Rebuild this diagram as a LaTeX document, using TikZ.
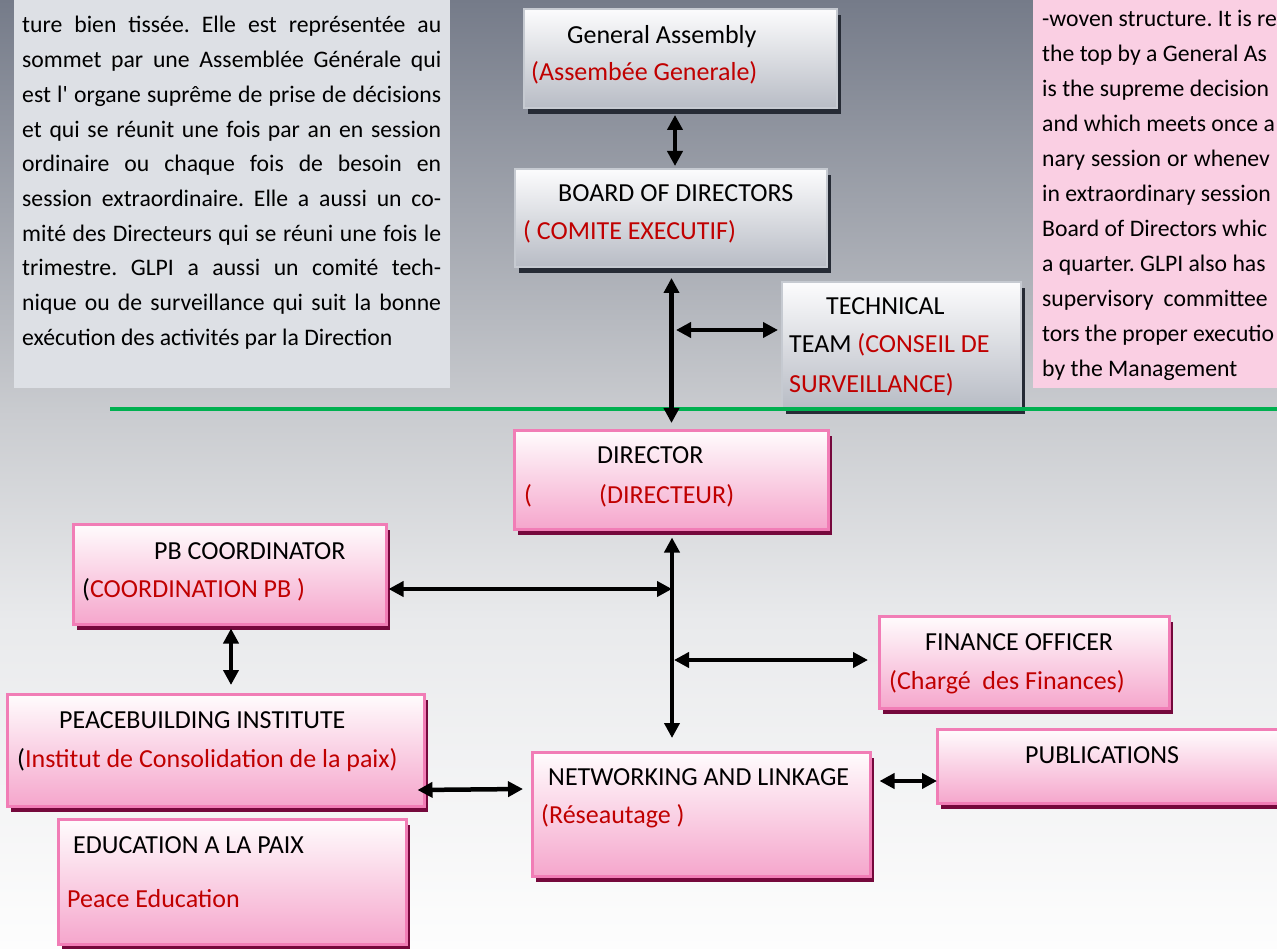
\documentclass[tikz,border=0pt]{standalone}
\usepackage{fontspec}
\setmainfont{Carlito}
\usetikzlibrary{arrows.meta,shadows,calc}
\frenchspacing
\definecolor{bg0}{RGB}{117,123,137}
\definecolor{bg1}{RGB}{201,203,207}
\definecolor{bg2}{RGB}{233,234,236}
\definecolor{bg3}{RGB}{253,253,253}
\definecolor{grayfillA}{RGB}{252,252,253}
\definecolor{grayfillB}{RGB}{184,188,197}
\definecolor{grayborder}{RGB}{198,202,209}
\definecolor{grayshadow}{RGB}{38,43,53}
\definecolor{pinkfillA}{RGB}{255,252,253}
\definecolor{pinkfillB}{RGB}{245,166,204}
\definecolor{pinkborder}{RGB}{241,125,182}
\definecolor{pinkshadow}{RGB}{117,8,60}
\definecolor{redtxt}{RGB}{192,0,0}
\definecolor{leftbox}{RGB}{221,224,229}
\definecolor{rightbox}{RGB}{250,207,227}
\definecolor{greenline}{RGB}{0,176,80}
\tikzset{
  graybox/.style={rectangle, anchor=north west, inner sep=0pt, line width=2pt,
    draw=grayborder, top color=grayfillA, bottom color=grayfillB,
    general shadow={fill=grayshadow, shadow xshift=4pt, shadow yshift=-6pt}},
  pinkbox/.style={rectangle, anchor=north west, inner sep=0pt, line width=2.5pt,
    draw=pinkborder, top color=pinkfillA, bottom color=pinkfillB,
    general shadow={fill=pinkshadow, shadow xshift=4pt, shadow yshift=-6pt}},
  lbl/.style={anchor=base west, inner sep=0pt, font=\fontsize{26}{30}\selectfont},
  rlbl/.style={lbl, text=redtxt},
  ptxt/.style={anchor=base west, inner sep=0pt, font=\fontsize{23.7}{28}\selectfont},
  dbl/.style={line width=4.5pt, {Triangle[length=15pt,width=15pt]}-{Triangle[length=15pt,width=15pt]}},
}
\begin{document}
\begin{tikzpicture}[x=1pt,y=-1pt]
\useasboundingbox (0,0) rectangle (1277,949);
\clip (0,0) rectangle (1277,949);
% background
\fill[top color=bg0, bottom color=bg1] (0,0) rectangle (1277,409.5);
\fill[top color=bg1, bottom color=bg2] (0,409) rectangle (1277,620.5);
\fill[top color=bg2, bottom color=bg3] (0,620) rectangle (1277,949);

% left text box
\fill[leftbox] (14,-2) rectangle (450,388);
\node[ptxt] (L1) at (22,33) {\makebox[419pt][s]{ture bien tissée. Elle est représentée au}};
\node[ptxt] (L2) at (22,67.7) {\makebox[419pt][s]{sommet par une Assemblée Générale qui}};
\node[ptxt] (L3) at (22,102.4) {\makebox[419pt][s]{est l\textquotesingle{} organe suprême de prise de décisions}};
\node[ptxt] (L4) at (22,137.1) {\makebox[419pt][s]{et qui se réunit une fois par an en session}};
\node[ptxt] (L5) at (22,171.8) {\makebox[419pt][s]{ordinaire ou chaque fois de besoin en}};
\node[ptxt] (L6) at (22,206.5) {\makebox[419pt][s]{session extraordinaire. Elle a aussi un co-}};
\node[ptxt] (L7) at (22,241.2) {\makebox[419pt][s]{mité des Directeurs qui se réuni une fois le}};
\node[ptxt] (L8) at (22,275.9) {\makebox[419pt][s]{trimestre. GLPI a aussi un comité tech-}};
\node[ptxt] (L9) at (22,310.6) {\makebox[419pt][s]{nique ou de surveillance qui suit la bonne}};
\node[ptxt] (L10) at (22,345.3) {exécution des activités par la Direction};

% right text box
\fill[rightbox] (1033,-2) rectangle (1280,388);
\node[ptxt] (R1) at (1042,26.5) {-woven structure. It is re};
\node[ptxt] (R2) at (1042,61.5) {the top by a General As};
\node[ptxt] (R3) at (1042,96.5) {is the supreme decision};
\node[ptxt] (R4) at (1042,131.5) {and which meets once a};
\node[ptxt] (R5) at (1042,166.5) {nary\hspace{6pt}session\hspace{6pt}or\hspace{6pt}whenev};
\node[ptxt] (R6) at (1042,201.5) {in extraordinary session};
\node[ptxt] (R7) at (1042,236.5) {Board of Directors whic};
\node[ptxt] (R8) at (1042,271.5) {a quarter. GLPI also has};
\node[ptxt] (R9) at (1042,306.5) {supervisory\hspace{10pt}committee};
\node[ptxt] (R10) at (1042,341.5) {tors the proper executio};
\node[ptxt] (R11) at (1042,376.5) {by the Management};

% gray boxes
\node[graybox, minimum width=313pt, minimum height=99pt] (ga) at (523,8) {};
\node[graybox, minimum width=312pt, minimum height=98pt] (board) at (514,168) {};
\node[graybox, minimum width=239pt, minimum height=126pt] (tech) at (781,281) {};

% pink boxes
\node[pinkbox, minimum width=314pt, minimum height=99pt] (dir) at (513,429) {};
\node[pinkbox, minimum width=313pt, minimum height=100pt] (pb) at (72,523) {};
\node[pinkbox, minimum width=417pt, minimum height=112pt] (peace) at (6,693) {};
\node[pinkbox, minimum width=348pt, minimum height=125pt] (edu) at (57,818) {};
\node[pinkbox, minimum width=338pt, minimum height=124pt] (net) at (531,751) {};
\node[pinkbox, minimum width=290pt, minimum height=92pt] (fin) at (878,615) {};
\node[pinkbox, minimum width=354pt, minimum height=74pt] (pub) at (936,728) {};

% labels
\node[lbl] (gaA) at (567,44) {General Assembly};
\node[rlbl] (gaB) at (531,81) {(Assembée Generale)};
\node[lbl] (boA) at (558,202) {BOARD OF DIRECTORS};
\node[rlbl] (boB) at (523,240) {( COMITE EXECUTIF)};
\node[lbl] (teA) at (826,315) {TECHNICAL};
\node[lbl] (teB) at (789,353) {TEAM \textcolor{redtxt}{(CONSEIL DE}};
\node[rlbl] (teC) at (789,392) {SURVEILLANCE)};
\node[lbl] (diA) at (597,463) {DIRECTOR};
\node[rlbl] (diB) at (524,503) {(};
\node[rlbl] (diC) at (599,503) {(DIRECTEUR)};
\node[lbl] (pbA) at (154,559) {PB COORDINATOR};
\node[lbl] (pbB) at (82,597) {(\textcolor{redtxt}{COORDINATION PB )}};
\node[lbl] (peA) at (59,728) {PEACEBUILDING INSTITUTE};
\node[lbl] (peB) at (17,767) {(\textcolor{redtxt}{Institut de Consolidation de la paix)}};
\node[lbl] (edA) at (73,853) {EDUCATION A LA PAIX};
\node[rlbl] (edB) at (67,907) {Peace Education};
\node[lbl] (neA) at (548,785) {NETWORKING AND LINKAGE};
\node[rlbl] (neB) at (541,823) {(Réseautage )};
\node[lbl] (fiA) at (925,650) {FINANCE OFFICER};
\node[rlbl] (fiB) at (889,689) {(Chargé\ \ des Finances)};
\node[lbl] (puA) at (1025,763) {PUBLICATIONS};

% green line
\coordinate (g1) at (110,409);
\coordinate (g2) at (1280,409);
\draw[greenline, line width=4pt] (g1) -- (g2);

% connectors
\coordinate (t1) at (676,330);
\coordinate (p1) at (672,589);
\coordinate (f1) at (674,660);
\draw[dbl] ($(ga.south west)+(152,6)$) -- ($(board.north west)+(161,-2)$);
\draw[dbl] ($(board.south west)+(157.5,10)$) -- ($(dir.north west)+(158.5,-6)$);
\draw[dbl] (t1) -- ($(tech.north west)+(-3,49)$);
\draw[dbl] ($(dir.south west)+(159,7)$) -- ($(net.north west)+(141,-13)$);
\draw[dbl] ($(pb.north east)+(1,66)$) -- (p1);
\draw[dbl] (f1) -- ($(fin.north west)+(-10,45)$);
\draw[dbl] ($(pb.south west)+(159,3)$) -- ($(peace.north west)+(225,-8)$);
\draw[dbl] ($(peace.north east)+(-8,97)$) -- ($(net.north west)+(-8,38)$);
\draw[dbl] ($(net.north east)+(8,30)$) -- ($(pub.north west)+(1,53)$);
\end{tikzpicture}
\end{document}
